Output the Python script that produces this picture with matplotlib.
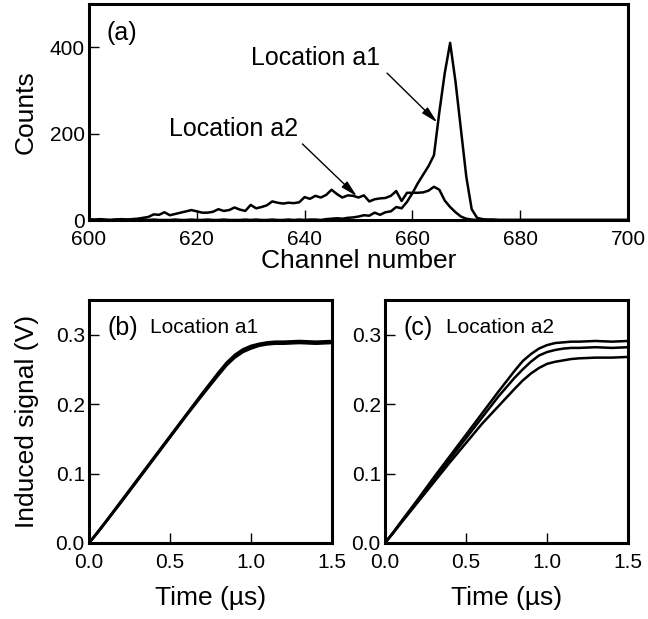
import numpy as np
import matplotlib
matplotlib.use('Agg')
import matplotlib.pyplot as plt

plt.rcParams['font.family'] = ['Liberation Sans', 'DejaVu Sans']

# Spectra: counts per channel, channels 600..700
channels = np.arange(600, 701)
counts_a1 = [1, 0, 1, 0, 0, 1, 0, 1, 0, 0,
             1, 0, 1, 0, 0, 0, 1, 0, 0, 1,
             0, 0, 1, 0, 0, 1, 0, 0, 0, 1,
             0, 1, 0, 0, 1, 0, 0, 1, 0, 1,
             0, 1, 1, 0, 2, 3, 4, 3, 5, 6,
             8, 11, 10, 17, 12, 18, 20, 30, 27, 42,
             62, 85, 105, 125, 150, 250, 340, 410, 320, 210,
             100, 25, 5, 2, 1, 1, 0, 0, 0, 0,
             0, 0, 0, 0, 0, 0, 0, 0, 0, 0,
             0, 0, 0, 0, 0, 0, 0, 0, 0, 0,
             0]
counts_a2 = [2, 1, 2, 1, 0, 1, 2, 1, 2, 3,
             5, 7, 13, 12, 18, 11, 14, 17, 20, 23,
             20, 17, 17, 19, 25, 21, 23, 29, 24, 21,
             35, 27, 30, 34, 43, 40, 38, 40, 39, 41,
             53, 49, 56, 52, 58, 70, 60, 52, 57, 56,
             52, 57, 43, 48, 50, 51, 56, 67, 44, 63,
             63, 63, 64, 68, 77, 70, 45, 30, 18, 8,
             3, 1, 0, 0, 0, 0, 0, 0, 0, 0,
             0, 0, 0, 0, 0, 0, 0, 0, 0, 0,
             0, 0, 0, 0, 0, 0, 0, 0, 0, 0,
             0]

# Induced signal traces (V) vs time (us)
time_us = [0, 0.05, 0.1, 0.2, 0.3, 0.4, 0.5, 0.6, 0.7, 0.8, 0.85, 0.9,
           0.95, 1.0, 1.05, 1.1, 1.15, 1.2, 1.3, 1.4, 1.5]
sig_b1 = [0, 0.014, 0.029, 0.060, 0.091, 0.122, 0.153, 0.184, 0.214, 0.244,
          0.258, 0.269, 0.277, 0.282, 0.285, 0.287, 0.288, 0.288, 0.289, 0.288, 0.289]
sig_b2 = [0, 0.015, 0.030, 0.061, 0.092, 0.123, 0.154, 0.185, 0.216, 0.246,
          0.260, 0.271, 0.279, 0.284, 0.287, 0.289, 0.290, 0.290, 0.291, 0.290, 0.291]
sig_b3 = [0, 0.014, 0.029, 0.059, 0.090, 0.121, 0.152, 0.183, 0.213, 0.242,
          0.256, 0.267, 0.275, 0.280, 0.284, 0.286, 0.287, 0.287, 0.288, 0.287, 0.288]
sig_c1 = [0, 0.015, 0.031, 0.062, 0.094, 0.125, 0.156, 0.187, 0.218, 0.248,
          0.262, 0.272, 0.280, 0.285, 0.288, 0.289, 0.290, 0.290, 0.291, 0.290, 0.291]
sig_c2 = [0, 0.015, 0.030, 0.060, 0.091, 0.121, 0.151, 0.181, 0.211, 0.238,
          0.250, 0.261, 0.270, 0.275, 0.278, 0.280, 0.281, 0.281, 0.282, 0.281, 0.282]
sig_c3 = [0, 0.014, 0.029, 0.058, 0.087, 0.116, 0.144, 0.172, 0.197, 0.222,
          0.234, 0.244, 0.252, 0.258, 0.261, 0.263, 0.265, 0.266, 0.267, 0.267, 0.268]

fig = plt.figure(figsize=(6.48, 6.19), dpi=100)
ax_a = fig.add_axes([89/648, 1 - 220/619, 539/648, 216/619])
ax_b = fig.add_axes([89/648, 1 - 543/619, 243/648, 243/619])
ax_c = fig.add_axes([385/648, 1 - 543/619, 243/648, 243/619])


def style(ax):
    for s in ax.spines.values():
        s.set_linewidth(2.2)
    ax.tick_params(direction='in', length=7, width=1, labelsize=15,
                   top=False, right=False)
    ax.tick_params(axis='x', pad=7)
    ax.tick_params(axis='y', pad=3)


# (a) spectra
ax_a.plot(channels, counts_a1, color='black', lw=1.8)
ax_a.plot(channels, counts_a2, color='black', lw=1.8)
ax_a.set_xlim(600, 700)
ax_a.set_ylim(0, 500)
ax_a.set_xticks([600, 620, 640, 660, 680, 700])
ax_a.set_yticks([0, 200, 400])
style(ax_a)
ax_a.set_xlabel('Channel number', fontsize=19, labelpad=0)
ax_a.set_ylabel('Counts', fontsize=19, labelpad=9)
ax_a.text(0.033, 0.866, '(a)', transform=ax_a.transAxes, fontsize=18,
          ha='left', va='center')
arrow = dict(arrowstyle='-|>,head_length=0.5,head_width=0.12',
             color='black', lw=1, shrinkA=0, shrinkB=0, mutation_scale=20)
ax_a.annotate('', xy=(664.6, 226), xytext=(655.3, 340), arrowprops=arrow)
ax_a.annotate('', xy=(649.7, 55), xytext=(639.6, 176), arrowprops=arrow)
ax_a.text(642.1, 376, 'Location a1', fontsize=18, ha='center', va='center')
ax_a.text(626.8, 211, 'Location a2', fontsize=18, ha='center', va='center')

# (b) location a1
for sig in (sig_b1, sig_b2, sig_b3):
    ax_b.plot(time_us, sig, color='black', lw=1.8)
# (c) location a2
for sig in (sig_c1, sig_c2, sig_c3):
    ax_c.plot(time_us, sig, color='black', lw=1.8)

for ax, tag, loc in ((ax_b, '(b)', 'Location a1'), (ax_c, '(c)', 'Location a2')):
    ax.set_xlim(0, 1.5)
    ax.set_ylim(0, 0.35)
    ax.set_xticks([0, 0.5, 1.0, 1.5])
    ax.set_yticks([0, 0.1, 0.2, 0.3])
    ax.xaxis.set_major_formatter(matplotlib.ticker.FormatStrFormatter('%.1f'))
    ax.yaxis.set_major_formatter(matplotlib.ticker.FormatStrFormatter('%.1f'))
    style(ax)
    ax.set_xlabel('Time (\u00b5s)', fontsize=19, labelpad=10)
    ax.text(0.075, 0.885, tag, transform=ax.transAxes, fontsize=18,
            ha='left', va='center')
    ax.text(0.25, 0.885, loc, transform=ax.transAxes, fontsize=15,
            ha='left', va='center')

ax_b.set_ylabel('Induced signal (V)', fontsize=19, labelpad=12)

fig.savefig('out.png', dpi=100)
